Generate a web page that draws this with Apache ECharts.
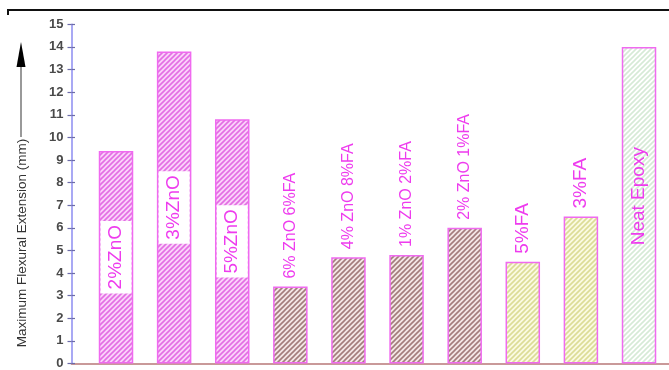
<!DOCTYPE html>
<html>
<head>
<meta charset="utf-8">
<script src="https://cdn.jsdelivr.net/npm/echarts@6/dist/echarts.min.js"></script>
<style>
  html, body { margin: 0; padding: 0; background: #fff; }
  #chart { width: 669px; height: 370px; }
</style>
</head>
<body>
<div id="chart"></div>
<script>
// Samples and their maximum flexural extension (mm)
const categories = ['2%ZnO', '3%ZnO', '5%ZnO', '6% ZnO 6%FA', '4% ZnO 8%FA',
                    '1% ZnO 2%FA', '2% ZnO 1%FA', '5%FA', '3%FA', 'Neat Epoxy'];
const extension = [9.4, 13.8, 10.8, 3.4, 4.7, 4.8, 6.0, 4.5, 6.5, 14.0];
// Filler group of each sample: ZnO only, ZnO + fly ash, fly ash only, neat resin
const groups = ['zno', 'zno', 'zno', 'mix', 'mix', 'mix', 'mix', 'fa', 'fa', 'neat'];
const yTicks = [0, 1, 2, 3, 4, 5, 6, 7, 8, 9, 10, 11, 12, 13, 14, 15];

// Diagonal hatch fill drawn on a small tile
function hatch(bg, stripe) {
  const s = 5;
  const c = document.createElement('canvas');
  c.width = s; c.height = s;
  const g = c.getContext('2d');
  g.fillStyle = bg; g.fillRect(0, 0, s, s);
  g.strokeStyle = stripe; g.lineWidth = 1.6;
  g.beginPath();
  g.moveTo(-1, s + 1); g.lineTo(s + 1, -1);
  g.moveTo(-1, 1); g.lineTo(1, -1);
  g.moveTo(s - 1, s + 1); g.lineTo(s + 1, s - 1);
  g.stroke();
  return { image: c, repeat: 'repeat' };
}

const groupStyle = {
  zno:  { fill: hatch('#fad2fa', '#e36ee3'), label: 'inside', size: 19 },
  mix:  { fill: hatch('#f3e6e6', '#a37c7c'), label: 'top', size: 16 },
  fa:   { fill: hatch('#fafae2', '#dcdc96'), label: 'top', size: 19 },
  neat: { fill: hatch('#ffffff', '#d6ead6'), label: 'inside', size: 19 }
};

const magenta = '#ee3cee';
const labelFont = '"Liberation Sans", Arial, sans-serif';

const barData = extension.map((v, i) => {
  const st = groupStyle[groups[i]];
  const label = {
    show: true,
    formatter: categories[i],
    rotate: 90,
    color: magenta,
    fontFamily: labelFont,
    fontSize: st.size
  };
  if (st.label === 'top') {
    Object.assign(label, { position: 'top', align: 'left', verticalAlign: 'middle', distance: 8 });
  } else if (groups[i] === 'zno') {
    Object.assign(label, {
      position: 'inside', align: 'center', verticalAlign: 'middle',
      backgroundColor: '#ffffff', padding: [5, 4, 5, 4], lineHeight: 21
    });
  } else {
    Object.assign(label, { position: 'inside', align: 'center', verticalAlign: 'middle', offset: [9, 0] });
  }
  return {
    value: [i, v],
    itemStyle: { color: st.fill, borderColor: '#f06af0', borderWidth: 1.5 },
    label
  };
});

const chart = echarts.init(document.getElementById('chart'), null, { renderer: 'canvas' });

const yBase = {
  type: 'value',
  min: yTicks[0],
  max: yTicks[yTicks.length - 1],
  interval: 1,
  splitLine: { show: false }
};

chart.setOption({
  animation: false,
  backgroundColor: '#ffffff',
  grid: { left: 71.5, right: 0, top: 24.3, bottom: 5, containLabel: false },
  xAxis: {
    type: 'value',
    min: -0.766,
    max: 9.516,
    axisLine: { show: true, onZero: false, lineStyle: { color: '#b87878', width: 1.5 } },
    axisTick: { show: false },
    axisLabel: { show: false },
    splitLine: { show: false }
  },
  yAxis: [
    Object.assign({}, yBase, {
      axisLine: { show: true, onZero: false, lineStyle: { color: '#8c8cf0', width: 1.5 } },
      axisTick: { show: true, length: 4, lineStyle: { color: '#6c6ca8', width: 1.2 } },
      axisLabel: {
        color: '#4a4a4a', fontSize: 13, fontWeight: 'bold', margin: 8,
        fontFamily: 'Liberation Sans, Arial, sans-serif'
      }
    }),
    Object.assign({}, yBase, {
      position: 'left',
      axisLine: { show: false, onZero: false },
      axisTick: { show: true, inside: true, length: 3.5, lineStyle: { color: '#6c6ca8', width: 1.2 } },
      axisLabel: { show: false }
    })
  ],
  series: [{
    type: 'bar',
    barWidth: 34.5,
    data: barData,
    z: 2
  }],
  graphic: [
    // frame line along the top
    { type: 'polyline', shape: { points: [[8, 15], [8, 10], [669, 10]] },
      style: { stroke: '#111', lineWidth: 2, fill: null } },
    // arrow beside the axis title
    { type: 'line', shape: { x1: 21, y1: 137, x2: 21, y2: 62 },
      style: { stroke: '#555', lineWidth: 1.2 } },
    { type: 'polygon', shape: { points: [[21, 42], [16.5, 67], [25.5, 67]] },
      style: { fill: '#000' } },
    // axis title
    { type: 'text', x: 22, y: 243, rotation: Math.PI / 2,
      style: {
        text: 'Maximum Flexural Extension (mm)',
        font: '13.5px "Liberation Sans", Arial, sans-serif',
        fill: '#333', align: 'center', verticalAlign: 'middle'
      } }
  ]
});
</script>
</body>
</html>
